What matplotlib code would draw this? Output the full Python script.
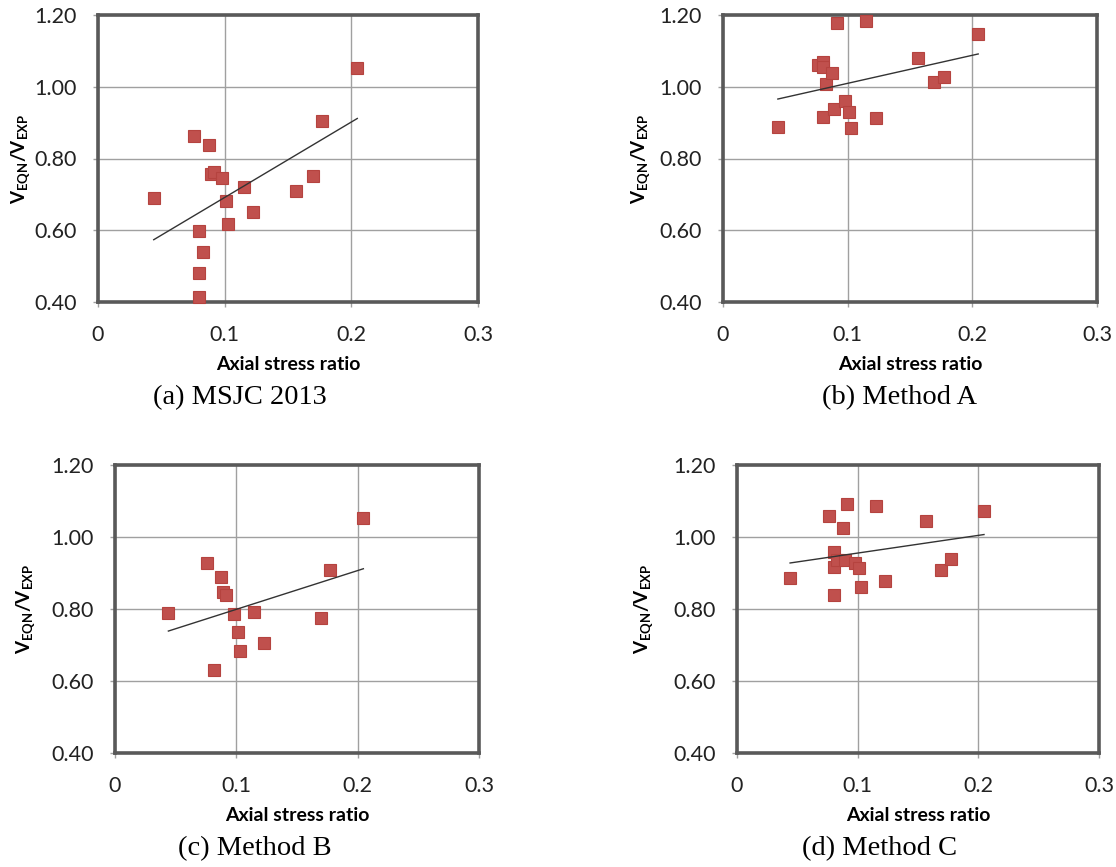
import numpy as np
import matplotlib
matplotlib.use("Agg")
import matplotlib.pyplot as plt

plt.rcParams['font.family'] = ['Lato', 'DejaVu Sans']
plt.rcParams['mathtext.fontset'] = 'custom'
plt.rcParams['mathtext.rm'] = 'Lato'
plt.rcParams['mathtext.bf'] = 'Lato:bold'
plt.rcParams['mathtext.it'] = 'Lato:italic'

# ---------------- data ----------------
x_ratio = [0.044, 0.076, 0.080, 0.080, 0.080, 0.0826, 0.0876, 0.0891, 0.0915,
           0.0978, 0.1009, 0.103, 0.115, 0.1226, 0.1566, 0.1694, 0.177, 0.2047]
y_msjc = [0.691, 0.864, 0.597, 0.481, 0.414, 0.539, 0.837, 0.758, 0.762,
          0.746, 0.681, 0.617, 0.721, 0.651, 0.709, 0.752, 0.904, 1.053]
y_method_a = [0.888, 1.062, 1.069, 1.054, 0.916, 1.009, 1.039, 0.939, 1.178,
              0.960, 0.931, 0.886, 1.184, 0.913, 1.081, 1.012, 1.026, 1.148]
x_ratio_b = [0.044, 0.0756, 0.0819, 0.0871, 0.0893, 0.0915, 0.0978, 0.1014,
             0.103, 0.1146, 0.1226, 0.170, 0.1772, 0.2047]
y_method_b = [0.789, 0.928, 0.631, 0.890, 0.846, 0.839, 0.786, 0.735,
              0.684, 0.792, 0.705, 0.774, 0.908, 1.053]
y_method_c = [0.887, 1.059, 0.959, 0.916, 0.838, 0.935, 1.026, 0.936, 1.093,
              0.928, 0.913, 0.860, 1.086, 0.877, 1.044, 0.908, 0.938, 1.071]

x_ticks = [0, 0.1, 0.2, 0.3]
x_tick_labels = ['0', '0.1', '0.2', '0.3']
y_ticks = [0.40, 0.60, 0.80, 1.00, 1.20]
y_tick_labels = ['0.40', '0.60', '0.80', '1.00', '1.20']
captions = ['(a) MSJC 2013', '(b) Method A', '(c) Method B', '(d) Method C']
x_title = 'Axial stress ratio'
y_title = r'$\mathbf{V}_{\mathbf{EQN}}\mathbf{/V}_{\mathbf{EXP}}$'

# ---------------- layout ----------------
W, H = 1116, 867
fig = plt.figure(figsize=(W / 100, H / 100), dpi=100)

# pixel boxes: left, right, top, bottom
boxes = [(98, 478, 15, 302), (723, 1097, 15, 302),
         (115, 479, 465, 753), (737, 1099, 465, 753)]
ylab_x = [-0.174, -0.19, -0.214, -0.226]
cap_pos = [(240, 398), (900, 398), (255, 849), (880, 849)]

panels = [(x_ratio, y_msjc), (x_ratio, y_method_a),
          (x_ratio_b, y_method_b), (x_ratio, y_method_c)]

red = '#C0504D'
edge = '#B5433F'
grid_c = '#A0A0A0'
spine_c = '#595959'

for i, ((xs, ys), (l, r, t, b)) in enumerate(zip(panels, boxes)):
    ax = fig.add_axes([l / W, 1 - b / H, (r - l) / W, (b - t) / H])
    ax.set_xlim(0, 0.3)
    ax.set_ylim(0.4, 1.2)
    ax.set_xticks(x_ticks)
    ax.set_xticklabels(x_tick_labels)
    ax.set_yticks(y_ticks)
    ax.set_yticklabels(y_tick_labels)
    ax.grid(True, color=grid_c, linewidth=1.0)
    ax.set_axisbelow(True)
    for s in ax.spines.values():
        s.set_color(spine_c)
        s.set_linewidth(2.6)
    ax.tick_params(axis='both', direction='out', length=3.5, width=1,
                   color=grid_c, labelsize=15.5, labelcolor='#222222')
    ax.tick_params(axis='x', pad=13)
    ax.tick_params(axis='y', pad=12)

    xa = np.array(xs)
    ya = np.array(ys)
    ax.plot(xa, ya, linestyle='none', marker='s', markersize=9,
            markerfacecolor=red, markeredgecolor=edge, markeredgewidth=0.8,
            zorder=3, clip_on=False)
    k, c0 = np.polyfit(xa, ya, 1)
    xl = np.array([xa.min(), xa.max()])
    ax.plot(xl, k * xl + c0, color='#333333', linewidth=1.0, zorder=4)

    ax.set_xlabel(x_title, fontsize=14, fontweight='bold', labelpad=8)
    ax.set_ylabel(y_title, fontsize=13.5)
    ax.yaxis.set_label_coords(ylab_x[i], 0.5)

    cx, cy = cap_pos[i]
    fig.text(cx / W, 1 - cy / H, captions[i], ha='center', va='center',
             fontsize=20.5, family='Liberation Serif')

fig.savefig('out.png', dpi=100)
